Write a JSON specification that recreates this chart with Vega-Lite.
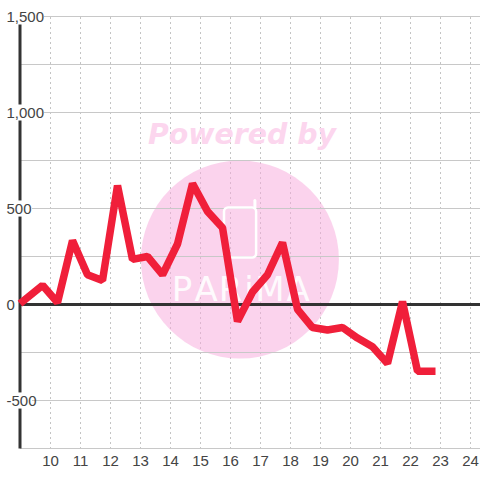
{"$schema":"https://vega.github.io/schema/vega-lite/v6.json","width":460,"height":432,"autosize":"none","padding":{"left":20,"top":16.5,"right":0,"bottom":31.5},"background":"white",
"config":{"view":{"stroke":null},"font":"Liberation Sans"},
"datasets":{
"series":[{"x":9,"y":5},{"x":9.75,"y":100},{"x":10.25,"y":10},{"x":10.75,"y":333},{"x":11.25,"y":155},{"x":11.75,"y":125},{"x":12.25,"y":620},{"x":12.75,"y":235},{"x":13.25,"y":250},{"x":13.75,"y":155},{"x":14.25,"y":315},{"x":14.75,"y":630},{"x":15.25,"y":485},{"x":15.75,"y":400},{"x":16.25,"y":-88},{"x":16.75,"y":65},{"x":17.25,"y":155},{"x":17.75,"y":323},{"x":18.25,"y":-25},{"x":18.75,"y":-120},{"x":19.25,"y":-133},{"x":19.75,"y":-120},{"x":20.25,"y":-175},{"x":20.75,"y":-220},{"x":21.25,"y":-307},{"x":21.75,"y":15},{"x":22.25,"y":-348},{"x":22.85,"y":-348}],
"labelBoxes":[{"x":8.53,"x2":9.8,"y":1542,"y2":1458},{"x":8.53,"x2":9.8,"y":1042,"y2":958},{"x":8.53,"x2":9.4,"y":542,"y2":458},{"x":8.53,"x2":9.4,"y":-458,"y2":-542}],
"hgrid":[{"x":9,"x2":24.333,"y":-750},{"x":9,"x2":24.333,"y":-500},{"x":9,"x2":24.333,"y":-250},{"x":9,"x2":24.333,"y":250},{"x":9,"x2":24.333,"y":500},{"x":9,"x2":24.333,"y":750},{"x":9,"x2":24.333,"y":1000},{"x":9,"x2":24.333,"y":1250},{"x":9,"x2":24.333,"y":1500}],
"letters":[{"x":14.4,"y":70,"t":"P"},{"x":15.2,"y":70,"t":"A"},{"x":16.02,"y":70,"t":"R"},{"x":16.63,"y":70,"t":"i"},{"x":17.33,"y":70,"t":"M"},{"x":18.27,"y":70,"t":"A"}]
},
"encoding":{"x":{"field":"x","type":"quantitative","scale":{"domain":[9,24.333],"nice":false,"zero":false},"axis":{"values":[10,11,12,13,14,15,16,17,18,19,20,21,22,23,24],"title":null,"domain":false,"ticks":false,"labelFontSize":15,"labelColor":"#444444","labelPadding":5,"labelOverlap":false,"grid":true,"gridColor":"#c4c4c4","gridDash":[2,3],"gridWidth":1,"labelFont":"Liberation Sans"}},"y":{"field":"y","type":"quantitative","scale":{"domain":[-750,1500],"nice":false,"zero":false},"axis":{"values":[-500,0,500,1000,1500],"title":null,"domain":false,"ticks":false,"tickSize":0,"grid":false,"labelExpr":"datum.value < 0 ? '-' + format(-datum.value, ',') : format(datum.value, ',')","labelOverlap":false,"labelAlign":"left","labelPadding":14,"labelFontSize":15,"labelColor":"#444444","labelFont":"Liberation Sans","zindex":1}}},
"layer":[
{"data":{"values":[{"x":16.33,"y":234}]},"mark":{"type":"point","filled":true,"size":39200,"color":"#f7a8dc","opacity":0.5}},
{"data":{"name":"hgrid"},"mark":{"type":"rule","color":"#c8c8c8","strokeWidth":1},"encoding":{"x2":{"field":"x2"}}},
{"data":{"values":[{"x":15.8,"x2":16.87,"y":505,"y2":245}]},"mark":{"type":"rect","fill":null,"stroke":"#ffffff","strokeWidth":2.5,"cornerRadius":4},"encoding":{"x2":{"field":"x2"},"y2":{"field":"y2"}}},
{"data":{"values":[{"x":16.83,"y":542,"y2":505}]},"mark":{"type":"rule","color":"#ffffff","strokeWidth":3,"strokeCap":"round"},"encoding":{"y2":{"field":"y2"}}},
{"data":{"values":[{"x":16.4,"y":885,"t":"Powered by"}]},"mark":{"type":"text","font":"DejaVu Sans","fontWeight":"bold","fontStyle":"italic","fontSize":28.4,"color":"#fcd6ee"},"encoding":{"text":{"field":"t"}}},
{"data":{"name":"letters"},"mark":{"type":"text","font":"DejaVu Sans","fontSize":34,"color":"#ffffff","opacity":0.9},"encoding":{"text":{"field":"t"}}},
{"data":{"values":[{"x":9,"x2":24.333,"y":0}]},"mark":{"type":"rule","color":"#333333","strokeWidth":3},"encoding":{"x2":{"field":"x2"}}},
{"data":{"values":[{"x":9,"y":1500,"y2":-750}]},"mark":{"type":"rule","color":"#333333","strokeWidth":3},"encoding":{"y2":{"field":"y2"}}},
{"data":{"name":"labelBoxes"},"mark":{"type":"rect","fill":"#ffffff"},"encoding":{"x2":{"field":"x2"},"y2":{"field":"y2"}}},
{"data":{"name":"series"},"mark":{"type":"line","color":"#f01f3a","strokeWidth":7.5,"strokeJoin":"bevel"}}
]}
